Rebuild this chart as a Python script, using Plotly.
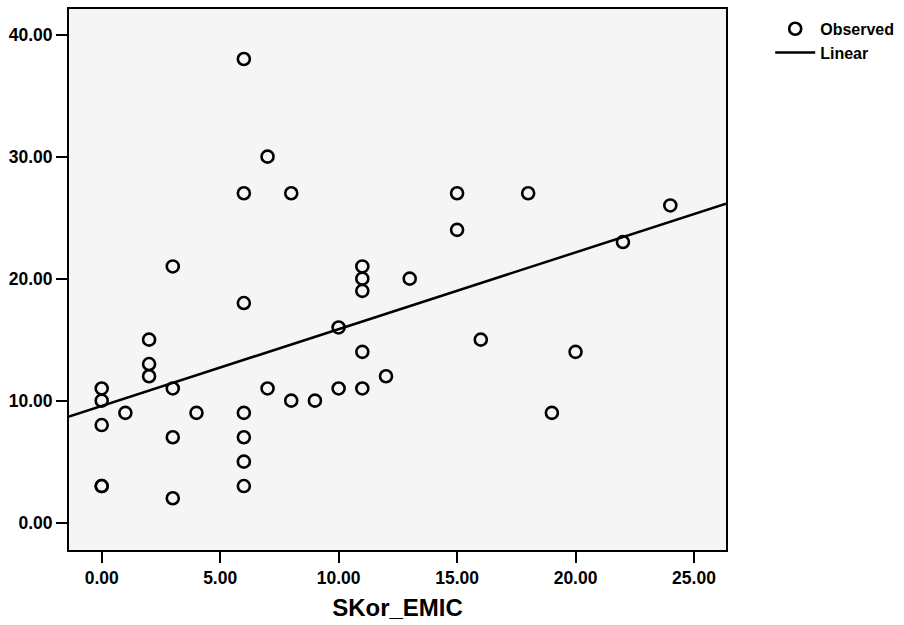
import numpy as np
import plotly.graph_objects as go

skor_emic = [0, 0, 0, 0, 0,
             1,
             2, 2, 2,
             3, 3, 3, 3,
             4,
             6, 6, 6, 6, 6, 6, 6,
             7, 7,
             8, 8,
             9,
             10, 10,
             11, 11, 11, 11, 11,
             12,
             13,
             15, 15,
             16,
             18,
             19,
             20,
             22,
             24]
observed = [11, 10, 8, 3, 3,
            9,
            15, 13, 12,
            21, 11, 7, 2,
            9,
            38, 27, 18, 9, 7, 5, 3,
            30, 11,
            27, 10,
            10,
            16, 11,
            21, 20, 19, 14, 11,
            12,
            20,
            27, 24,
            15,
            27,
            9,
            14,
            23,
            26]

# Linear fit coefficients
fit_intercept = 9.57
fit_slope = 0.629

x_range = [-1.38, 26.35]
y_range = [-2.24, 42.1]
x_ticks = [0, 5, 10, 15, 20, 25]
y_ticks = [0, 10, 20, 30, 40]

line_x = np.array(x_range)
line_y = fit_intercept + fit_slope * line_x

font_family = "Liberation Sans, Arial, sans-serif"

fig = go.Figure()
fig.add_trace(go.Scatter(
    x=skor_emic, y=observed, mode="markers", name="Observed",
    marker=dict(symbol="circle-open", size=12, color="black",
                line=dict(width=2.6, color="black")),
))
fig.add_trace(go.Scatter(
    x=line_x, y=line_y, mode="lines", name="Linear",
    line=dict(color="black", width=2.5),
))

fig.update_layout(
    width=904, height=625,
    margin=dict(l=69, r=178, t=9, b=75, autoexpand=False),
    paper_bgcolor="white",
    plot_bgcolor="#f5f5f5",
    showlegend=True,
    legend=dict(x=0.852, y=0.981, xref="container", yref="container",
                xanchor="left", yanchor="top",
                bgcolor="rgba(0,0,0,0)",
                itemwidth=40,
                font=dict(family=font_family, size=16, color="black", weight="bold"),
                tracegroupgap=0),
    font=dict(family=font_family, color="black"),
)
fig.update_xaxes(
    range=x_range, tickvals=x_ticks,
    ticktext=[f"{v:.2f}" for v in x_ticks],
    showgrid=False, zeroline=False,
    showline=True, linecolor="black", linewidth=2, mirror=True,
    ticks="outside", ticklen=11, tickwidth=2, tickcolor="black",
    tickfont=dict(family=font_family, size=17.5, color="black", weight="bold"),
    title=dict(text="SKor_EMIC", standoff=12,
               font=dict(family=font_family, size=24, color="black", weight="bold")),
)
fig.update_yaxes(
    range=y_range, tickvals=y_ticks,
    ticktext=[f"{v:.2f}" for v in y_ticks],
    showgrid=False, zeroline=False,
    showline=True, linecolor="black", linewidth=2, mirror=True,
    ticks="outside", ticklen=11, tickwidth=2, tickcolor="black",
    tickfont=dict(family=font_family, size=17.5, color="black", weight="bold"),
)

fig.write_html("out.html")
